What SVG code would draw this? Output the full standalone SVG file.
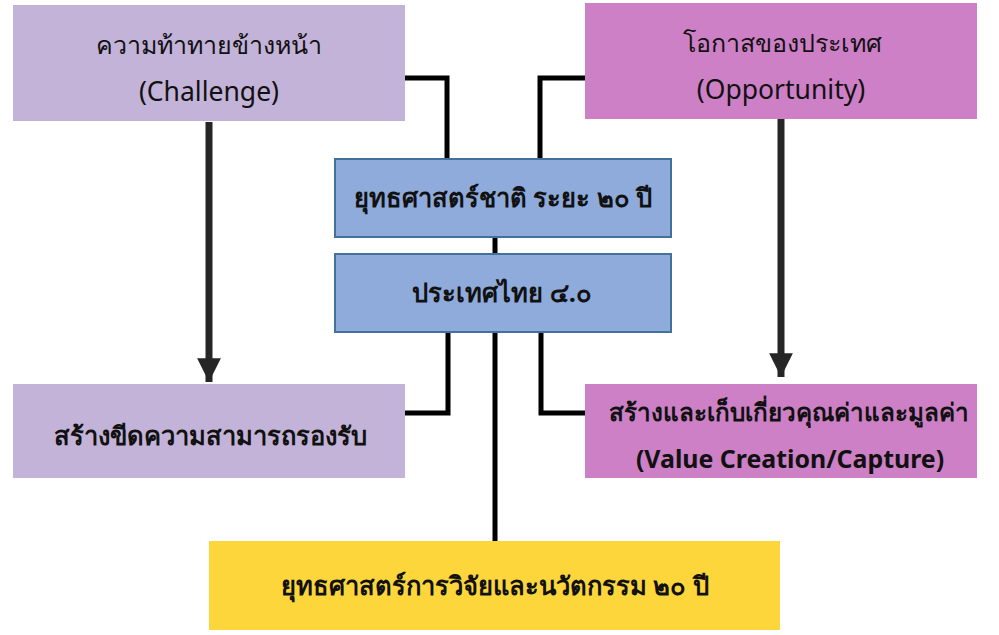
<svg xmlns="http://www.w3.org/2000/svg" width="999" height="635" viewBox="0 0 999 635">
<defs>
<style>
.t{font-family:"Noto Sans","DejaVu Sans",sans-serif;font-size:25px;fill:#111;text-anchor:middle}
.w{font-weight:bold;font-size:25.5px}
.c{fill:none;stroke:#000;stroke-width:5}
.a{fill:none;stroke:#262626;stroke-width:7}
.blue{fill:#8eabdc;stroke:#41719c;stroke-width:2}
</style>
<marker id="ah" viewBox="0 0 10 10" refX="10" refY="5" markerWidth="3.4" markerHeight="3.4" markerUnits="strokeWidth" orient="auto">
<path d="M0,0 L10,5 L0,10 Z" fill="#262626"/>
</marker>
</defs>
<rect width="999" height="635" fill="#fff"/>
<g id="connectors">
<polyline class="c" points="405,78 447,78 447,158"/>
<polyline class="c" points="585,78 540,78 540,158"/>
<line class="c" x1="495" y1="237" x2="495" y2="253"/>
<polyline class="c" points="448,332 448,413 405,413"/>
<polyline class="c" points="541,332 541,413 585,413"/>
<line class="c" x1="495" y1="332" x2="495" y2="541"/>
<line class="a" x1="209" y1="122" x2="209" y2="382" marker-end="url(#ah)"/>
<line class="a" x1="781" y1="114" x2="781" y2="377" marker-end="url(#ah)"/>
</g>
<g id="challenge">
<rect x="13" y="5" width="392" height="116" fill="#c3b3d8"/>
<text class="t" x="209" y="54">ความท้าทายข้างหน้า</text>
<text class="t" x="209" y="101" style="font-size:26.5px">(Challenge)</text>
</g>
<g id="opportunity">
<rect x="585" y="3" width="392" height="116" fill="#cd80c6"/>
<text class="t" x="782" y="52">โอกาสของประเทศ</text>
<text class="t" x="781" y="99" style="font-size:26.5px">(Opportunity)</text>
</g>
<g id="national">
<rect class="blue" x="335" y="159" width="336" height="78"/>
<text class="t w" x="503" y="207">ยุทธศาสตร์ชาติ ระยะ ๒๐ ปี</text>
</g>
<g id="thailand40">
<rect class="blue" x="335" y="254" width="336" height="78"/>
<text class="t w" x="502" y="302">ประเทศไทย ๔.๐</text>
</g>
<g id="capacity">
<rect x="13" y="384" width="392" height="94" fill="#c3b3d8"/>
<text class="t w" x="210" y="445">สร้างขีดความสามารถรองรับ</text>
</g>
<g id="value">
<rect x="585" y="384" width="392" height="94" fill="#cd80c6"/>
<text class="t w" x="789" y="421" style="font-size:24.2px">สร้างและเก็บเกี่ยวคุณค่าและมูลค่า</text>
<text class="t w" x="790" y="468" style="font-size:24.9px">(Value Creation/Capture)</text>
</g>
<g id="research">
<rect x="209" y="541" width="571" height="89" fill="#fdd63c"/>
<text class="t w" x="495" y="595">ยุทธศาสตร์การวิจัยและนวัตกรรม ๒๐ ปี</text>
</g>
</svg>
